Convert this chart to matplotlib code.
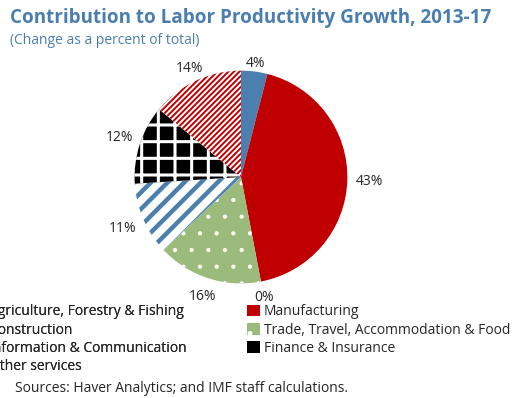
import matplotlib
matplotlib.use("Agg")
import matplotlib.pyplot as plt
import numpy as np
from matplotlib.patches import Rectangle

plt.rcParams['font.family'] = ['Open Sans', 'DejaVu Sans']

# data
sectors = ['Agriculture, Forestry & Fishing', 'Manufacturing', 'Construction',
           'Trade, Travel, Accommodation & Food', 'Information & Communication',
           'Finance & Insurance', 'Other services']
shares = [4, 43, 0, 16, 11, 12, 14]

# styles
faces = ['#4a7fb0', '#c00000', 'white', '#9bbb7c', 'white', 'black', 'white']
hatch_colors = ['#4a7fb0', '#c00000', 'white', 'white', '#4a7fb0', 'white', '#c00000']
hatches = ['', '', '', '.', '//', '+', '//////']
hatch_lw = [1, 1, 1, 0.6, 3.2, 2.2, 1.4]
label_dist = [1.08, 1.21, 1.15, 1.18, 1.21, 1.2, 1.13]

fig = plt.figure(figsize=(5.13, 3.98), dpi=100)
ax = fig.add_axes([0.2105, 0.2211, 0.5185, 0.6683])

wedges, texts = ax.pie(shares, labels=[f'{v}%' for v in shares], startangle=90,
                       counterclock=False, labeldistance=1.15,
                       textprops=dict(fontsize=10, color='#262626'))
for w, fc, hc, h, lw in zip(wedges, faces, hatch_colors, hatches, hatch_lw):
    w.set_facecolor(fc)
    w.set_edgecolor(hc)
    w.set_linewidth(0)
    w.set_hatch(h)
    if hasattr(w, 'set_hatch_linewidth'):
        w.set_hatch_linewidth(lw)
    else:
        w._hatch_linewidth = lw
for w, t, d in zip(wedges, texts, label_dist):
    ang = np.deg2rad((w.theta1 + w.theta2) / 2)
    t.set_position((d * np.cos(ang), d * np.sin(ang)))
    t.set_ha('center')
    t.set_va('center')
ax.set_xlim(-1.25, 1.25)
ax.set_ylim(-1.25, 1.25)

# titles
fig.text(10 / 513, 1 - 18 / 398, 'Contribution to Labor Productivity Growth, 2013-17',
         fontsize=13.6, fontweight='bold', color='#4a7eb0', va='center', ha='left')
fig.text(10 / 513, 1 - 40 / 398, '(Change as a percent of total)',
         fontsize=10, color='#4a7eb0', va='center', ha='left')

# legend handles
handles = []
for fc, hc, h in zip(faces, hatch_colors, hatches):
    r = Rectangle((0, 0), 1, 1, facecolor=fc, edgecolor=hc, linewidth=0,
                  hatch=h if h == '.' else '')
    if h == '.' and hasattr(r, 'set_hatch_linewidth'):
        r.set_hatch_linewidth(0.6)
    handles.append(r)

left_idx = [0, 2, 4, 6]
right_idx = [1, 3, 5]
leg_kw = dict(loc='upper left', frameon=False, fontsize=10, handlelength=0.9,
              handleheight=0.9, handletextpad=0.3, labelspacing=0.25,
              borderpad=0, borderaxespad=0, labelcolor='#262626')
leg1 = fig.legend([handles[i] for i in left_idx], [sectors[i] for i in left_idx],
                  bbox_to_anchor=(-0.053, 0.236), **leg_kw)
fig.add_artist(leg1)
fig.legend([handles[i] for i in right_idx], [sectors[i] for i in right_idx],
           bbox_to_anchor=(0.4815, 0.236), **leg_kw)

fig.text(15 / 513, 1 - 388 / 398, 'Sources: Haver Analytics; and IMF staff calculations.',
         fontsize=10, color='#262626', va='center', ha='left')

fig.savefig('out.png', dpi=100)
